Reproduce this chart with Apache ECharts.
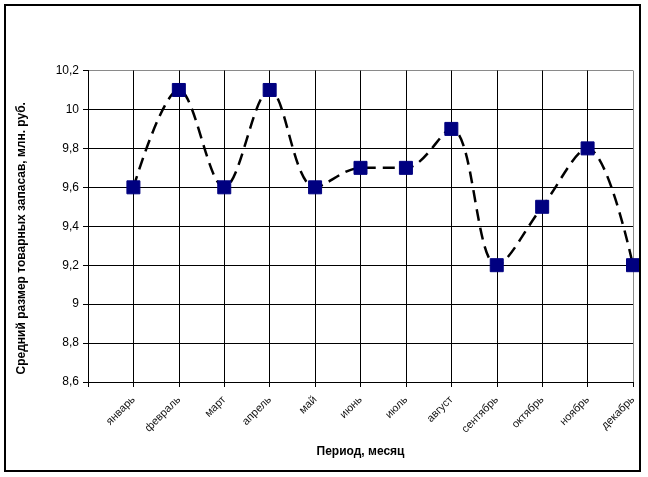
<!DOCTYPE html>
<html>
<head>
<meta charset="utf-8">
<script src="https://cdn.jsdelivr.net/npm/echarts@6/dist/echarts.min.js"></script>
<style>
html,body{margin:0;padding:0;background:#fff;}
#wrap{position:relative;width:648px;height:477px;}
#chart{position:absolute;left:0;top:0;width:648px;height:477px;}
#frame{position:absolute;left:4px;top:4px;width:633px;height:464px;border:2px solid #000;pointer-events:none;}
</style>
</head>
<body>
<div id="wrap"><div id="chart"></div><div id="frame"></div></div>
<script>
var months = ['январь','февраль','март','апрель','май','июнь','июль','август','сентябрь','октябрь','ноябрь','декабрь'];
var values = [9.6, 10.1, 9.6, 10.1, 9.6, 9.7, 9.7, 9.9, 9.2, 9.5, 9.8, 9.2];
var yTicks = {min: 8.6, max: 10.2, interval: 0.2};
var xTitle = 'Период, месяц';
var yTitle = 'Средний размер товарных запасав, млн. руб.';

var points = values.map(function(v, i){ return [i + 1, v]; });
var font = 'Liberation Sans, Arial, sans-serif';

var xGridColors = [];
for (var i = 0; i <= months.length; i++) xGridColors.push(i === months.length ? '#8a8a8a' : '#000');
var yGridColors = [];
var nY = Math.round((yTicks.max - yTicks.min) / yTicks.interval);
for (var j = 0; j <= nY; j++) yGridColors.push(j === nY ? '#8a8a8a' : '#000');

var chart = echarts.init(document.getElementById('chart'), null, {renderer: 'canvas'});
chart.setOption({
  animation: false,
  backgroundColor: '#fff',
  grid: {left: 88, top: 70.5, right: 15, bottom: 95, containLabel: false},
  xAxis: {
    type: 'value',
    min: 0, max: months.length, interval: 1,
    name: xTitle, nameLocation: 'middle', nameGap: 64,
    nameTextStyle: {fontFamily: font, fontSize: 12, fontWeight: 'bold', color: '#000'},
    axisLine: {show: true, lineStyle: {color: '#000', width: 1}},
    axisTick: {show: true, length: 5, lineStyle: {color: '#000'}},
    axisLabel: {
      rotate: 45, margin: 16, fontFamily: font, fontSize: 11, color: '#111',
      formatter: function(v){ return months[v - 1] || ''; }
    },
    splitLine: {show: true, lineStyle: {color: xGridColors, width: 1}}
  },
  yAxis: {
    type: 'value',
    min: yTicks.min, max: yTicks.max, interval: yTicks.interval,
    name: yTitle, nameLocation: 'middle', nameGap: 60, nameRotate: 90,
    nameTextStyle: {fontFamily: font, fontSize: 12, fontWeight: 'bold', color: '#000', padding: [0, 24, 0, 0]},
    axisLine: {show: true, lineStyle: {color: '#000', width: 1}},
    axisTick: {show: true, length: 5, lineStyle: {color: '#000'}},
    axisLabel: {
      margin: 9, fontFamily: font, fontSize: 12, color: '#000',
      formatter: function(v){ return String(Math.round(v * 10) / 10).replace('.', ','); }
    },
    splitLine: {show: true, lineStyle: {color: yGridColors, width: 1}}
  },
  series: [{
    type: 'line',
    data: points,
    smooth: 0.35,
    symbol: 'rect',
    symbolSize: 13,
    itemStyle: {color: '#000080', borderColor: '#000080'},
    lineStyle: {color: '#000', width: 2.5, type: [12, 7]},
    z: 3
  }]
});
</script>
</body>
</html>
